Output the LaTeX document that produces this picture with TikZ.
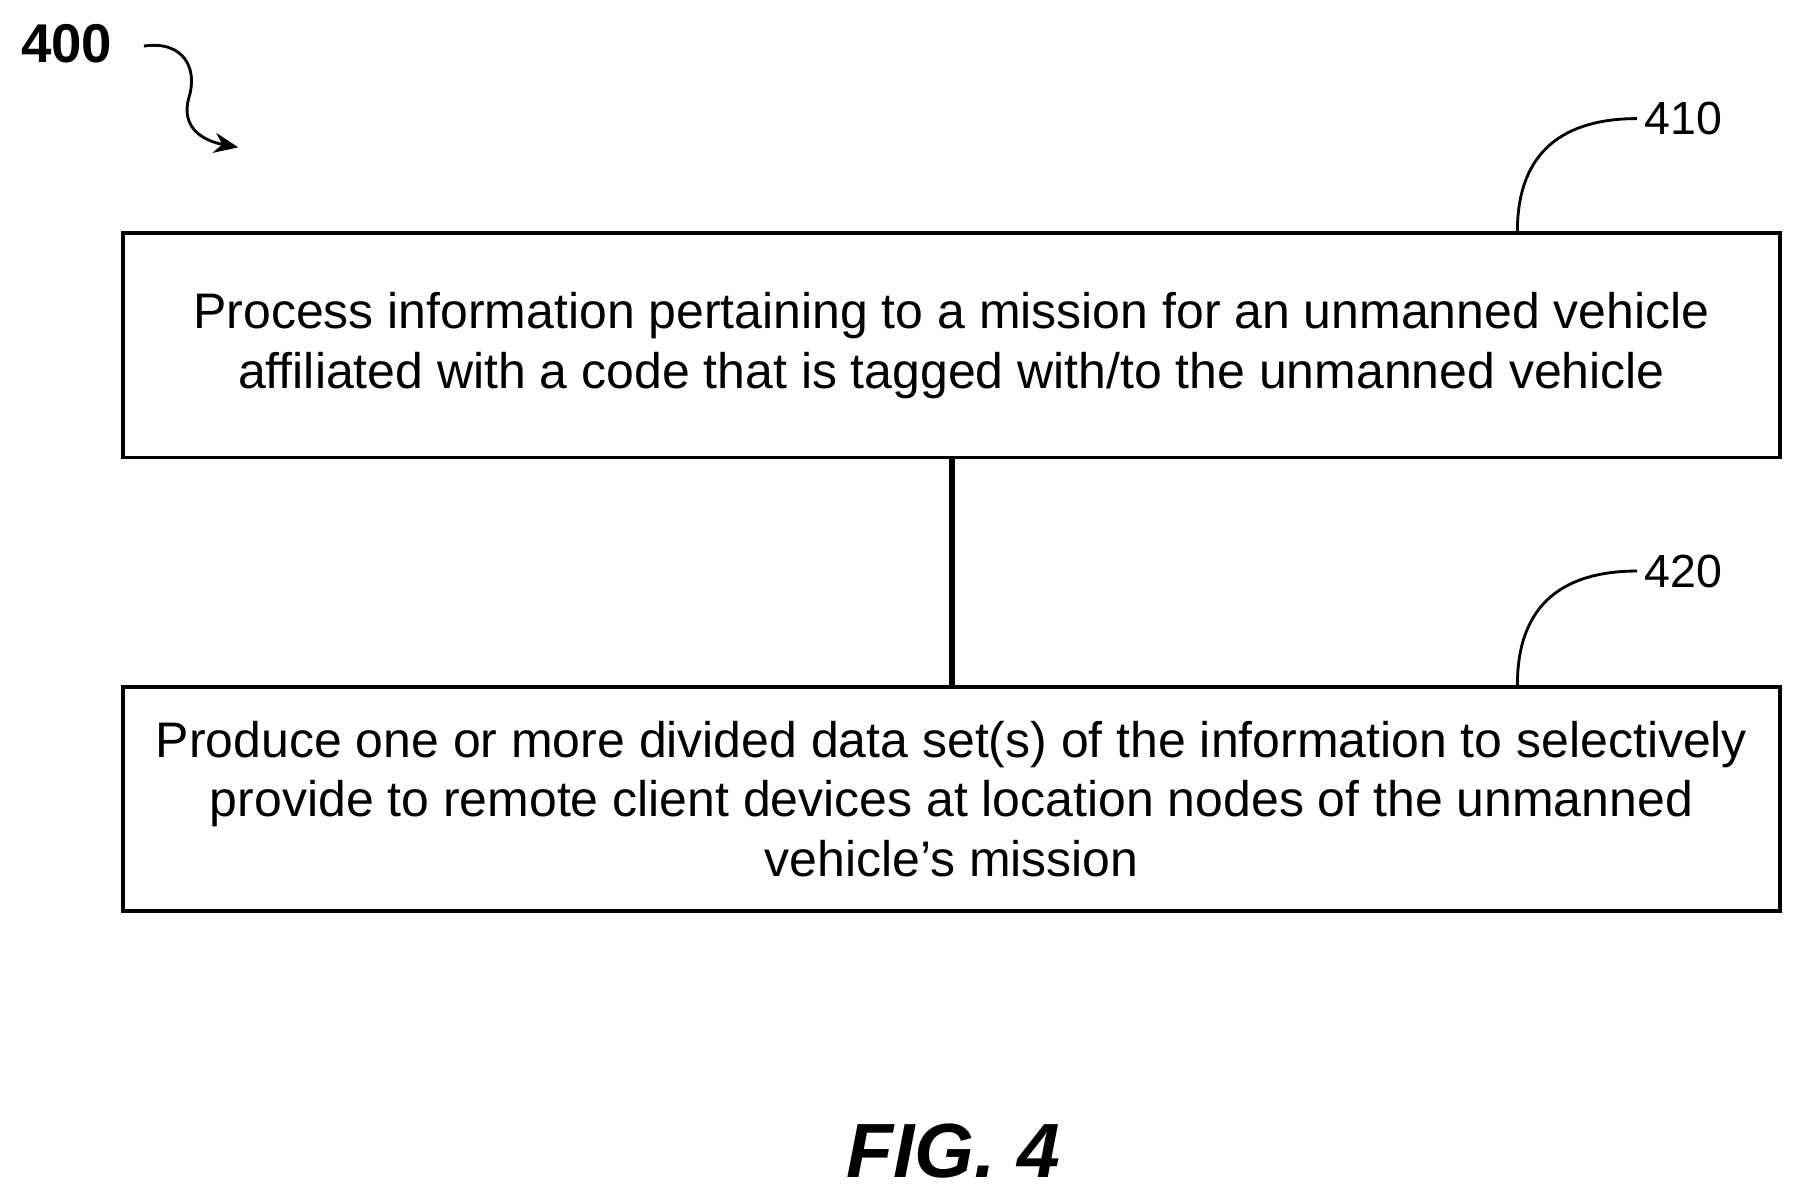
\documentclass[tikz,border=0pt]{standalone}
\usepackage{fontspec}
\setmainfont{Liberation Sans}
\usetikzlibrary{arrows.meta}
\begin{document}
\begin{tikzpicture}[x=0.02cm, y=-0.02cm, >={Stealth[length=12pt,width=10pt]}]
            \useasboundingbox (0,0) rectangle (1560,1038);
            \tikzset{
                step box/.style={draw, line width=1.8pt, minimum width=28.8cm, minimum height=3.9cm,
                    align=center, font=\fontsize{24.7}{29.5}\selectfont, inner sep=0pt},
                ref line/.style={line width=1.4pt},
                ref num/.style={font=\fontsize{23}{26}\selectfont, anchor=west}
            }
            
            % steps
            \node [step box] (step-410) at (826.5,300) {Process information pertaining to a mission for an unmanned vehicle\\affiliated with a code that is tagged with/to the unmanned vehicle};
            \node [step box] (step-420) at (826.5,694) {Produce one or more divided data set(s) of the information to selectively\\provide to remote client devices at location nodes of the unmanned\\vehicle\symbol{39}s mission};
            
            \draw [line width=3pt] (step-410) -- (step-420);
            
            % reference numbers
            \node [ref num] (label-410) at (1422,103) {410};
            \node [ref num] (label-420) at (1422,496) {420};
            \draw [ref line] (step-410.north -| 1318,0) .. controls (1318,130) and (1360,103) .. (label-410.west);
            \draw [ref line] (step-420.north -| 1318,0) .. controls (1318,523) and (1360,496) .. (label-420.west);
            
            % figure number
            \node [font=\bfseries\fontsize{27}{30}\selectfont] (fig-num) at (58,38) {400};
            \coordinate (fig-tip) at (207,128);
            \draw [ref line, ->] (125,40) .. controls (160,35) and (172,60) .. (164,85)
                .. controls (157,110) and (175,122) .. (fig-tip);
            
            \node [font=\bfseries\itshape\fontsize{38}{42}\selectfont] (caption) at (828,1000) {FIG. 4};
        \end{tikzpicture}
\end{document}
